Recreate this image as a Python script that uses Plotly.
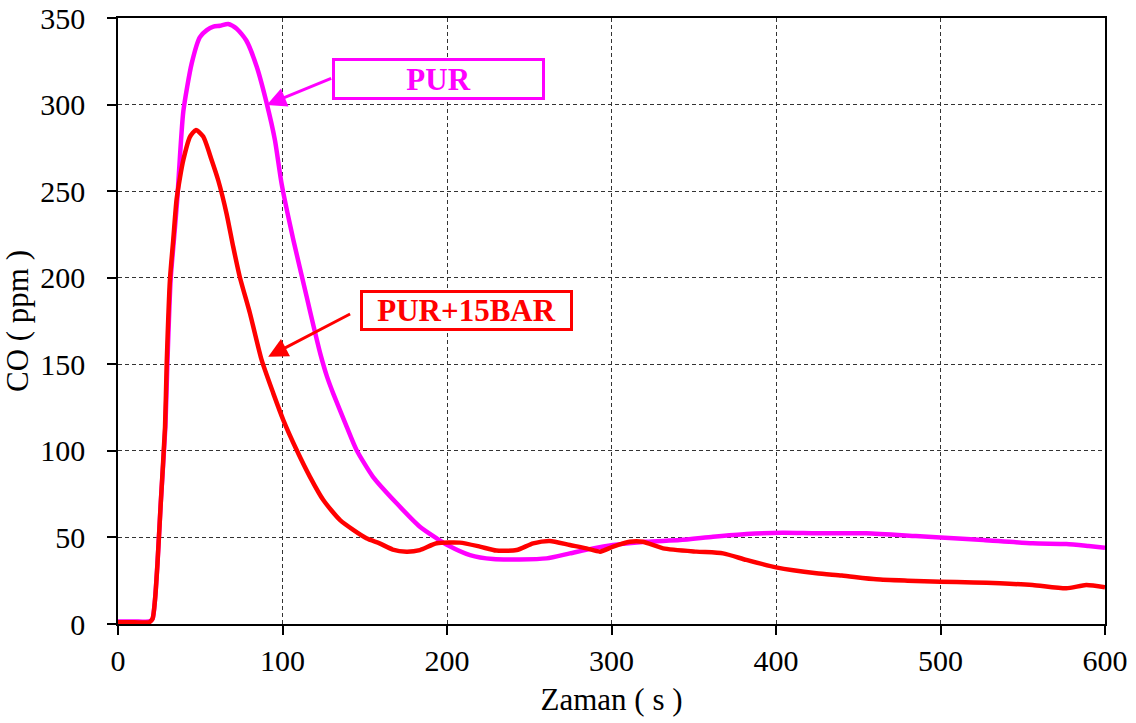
import plotly.graph_objects as go

# PUR (magenta)
pur_t = [0, 10, 19, 21, 22.5, 24, 26, 28.8, 30, 32, 34, 36, 39.7, 44.8, 49.8, 54, 58, 62, 67, 72, 78,
         84.3, 90.4, 95.4, 99.5, 106.6, 114.7, 119, 123, 127, 130.8, 139, 145, 155, 169.4, 183.5,
         193.7, 200.5, 214, 228, 244, 260.5, 274.7, 288.8, 301, 321, 341.5, 361.7, 382, 404, 424.6,
         455, 485, 500, 526, 556, 576.5, 590, 600]
pur_co = [1.5, 1.5, 1.5, 3, 14, 35, 70, 114, 150, 199, 222, 245, 296, 323.8, 339, 343, 345, 345.5,
          346.5, 344, 337, 322, 300.7, 279.5, 254, 221.8, 189, 171.5, 156, 143, 133.2, 114, 100.5,
          85, 69.7, 56.2, 49.5, 45.5, 39.8, 37.5, 37.3, 37.9, 40.8, 43.7, 45.6, 47.5, 48.5, 50.4, 52,
          52.7, 52.4, 52.4, 50.8, 50, 48.5, 46.6, 46.2, 45, 44]

# PUR+15BAR (red)
bar_t = [0, 10, 19, 21, 22.5, 24, 26, 28.6, 29.6, 31.6, 33.6, 35.6, 37.7, 39.7, 43.8, 47.4, 51.8,
         56.9, 61, 66, 70, 74, 80.2, 87.3, 94.4, 100.5, 108.6, 116.7, 124.8, 135, 151, 159, 167, 175.4,
         183.5, 193.7, 207.8, 220, 230, 242.3, 252.4, 262.5, 274.7, 284.8, 293, 301, 311, 319,
         331.4, 351.6, 367.8, 382, 400, 424.6, 440, 461, 480, 500, 520, 536, 556, 576.5, 588.6, 600]
bar_co = [1, 1, 1, 3, 14, 35, 70, 114, 150, 199, 222, 245, 258, 268, 281.5, 285.3, 281.5, 268, 256,
          237, 218, 200.6, 179.5, 152.5, 133.2, 117.8, 100.5, 85, 71.6, 60, 49.5, 46.6, 43, 41.8, 42.7,
          46.6, 47, 44.7, 42.4, 42.7, 46.6, 48, 45.6, 43.7, 41.8, 44.7, 47.5, 47.5, 43.7, 41.8, 40.8, 37,
          32.7, 29.3, 28, 25.8, 25, 24.4, 24, 23.5, 22.5, 20.6, 22.5, 21.2]

x_ticks = [0, 100, 200, 300, 400, 500, 600]
y_ticks = [0, 50, 100, 150, 200, 250, 300, 350]

FONT = "Times New Roman, Liberation Serif, serif"
MAG = "#FF00FF"
RED = "#FF0000"

fig = go.Figure()
fig.add_trace(go.Scatter(x=pur_t, y=pur_co, mode="lines", name="PUR",
                         line=dict(color=MAG, width=4.5, shape="spline", smoothing=0.6)))
fig.add_trace(go.Scatter(x=bar_t, y=bar_co, mode="lines", name="PUR+15BAR",
                         line=dict(color=RED, width=4.5, shape="spline", smoothing=0.6)))

axis_common = dict(
    showline=True, linecolor="black", linewidth=1.5, mirror=True,
    showgrid=True, gridcolor="#333333", gridwidth=1, griddash="4px,3px",
    zeroline=False, ticks="outside", ticklen=9, tickwidth=1.5, tickcolor="black",
    tickfont=dict(family=FONT, size=30, color="black"), automargin=False,
)

fig.update_xaxes(range=[0, 600], tickvals=x_ticks, ticklabelstandoff=0,
                 title=dict(text="Zaman ( s )", font=dict(family=FONT, size=31, color="black"),
                            standoff=13),
                 **axis_common)
fig.update_yaxes(range=[0, 350], tickvals=y_ticks, ticklabelstandoff=16,
                 title=dict(text="CO ( ppm )", font=dict(family=FONT, size=31, color="black"),
                            standoff=6),
                 **axis_common)

# arrows
fig.add_annotation(x=90.4, y=299.8, ax=130.5, ay=315.5, xref="x", yref="y", axref="x", ayref="y",
                   text="", showarrow=True, arrowhead=2, arrowsize=1.3, arrowwidth=3,
                   arrowcolor=MAG, standoff=0)
fig.add_annotation(x=91.3, y=154.4, ax=142, ay=179.5, xref="x", yref="y", axref="x", ayref="y",
                   text="", showarrow=True, arrowhead=2, arrowsize=1.3, arrowwidth=3,
                   arrowcolor=RED, standoff=0)
# boxes
fig.add_annotation(x=194.6, y=314.7, xref="x", yref="y", text="<b>PUR</b>", showarrow=False,
                   font=dict(family=FONT, size=31, color=MAG), bordercolor=MAG, borderwidth=3,
                   borderpad=0, bgcolor="white", width=207, height=36,
                   xanchor="center", yanchor="middle")
fig.add_annotation(x=211.9, y=181.2, xref="x", yref="y", text="<b>PUR+15BAR</b>", showarrow=False,
                   font=dict(family=FONT, size=31, color=RED), bordercolor=RED, borderwidth=3,
                   borderpad=0, bgcolor="white", width=207, height=35,
                   xanchor="center", yanchor="middle")

fig.update_layout(
    width=1136, height=723,
    margin=dict(l=118, r=31, t=18, b=99),
    paper_bgcolor="white", plot_bgcolor="white",
    showlegend=False,
)

fig.write_html("out.html", config={"displayModeBar": False},
               post_script="document.body.style.margin='0';")
